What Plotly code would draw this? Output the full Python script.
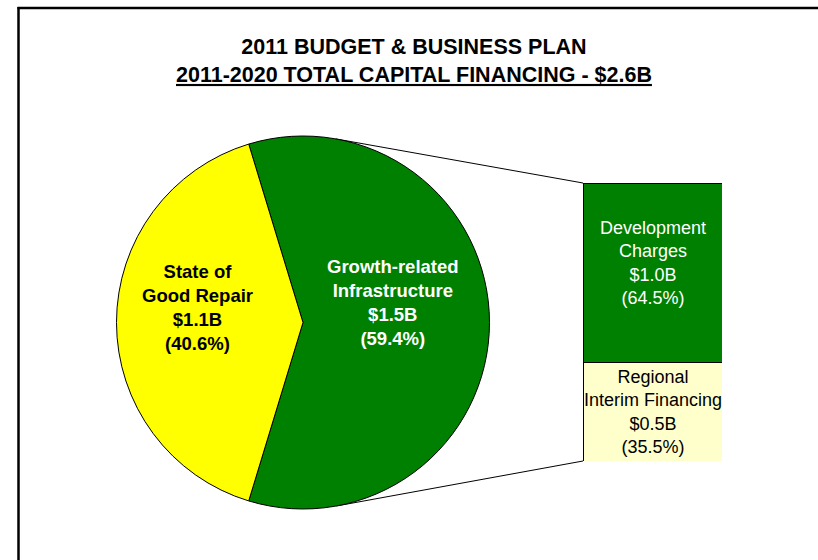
import math
import plotly.graph_objects as go

W, H = 818, 560

# 2011-2020 total capital financing, share of total (%)
pie_labels = ["Growth-related<br>Infrastructure", "State of<br>Good Repair"]
pie_amounts = ["$1.5B", "$1.1B"]
pie_shares = [59.4, 40.6]
pie_colors = ["#008000", "#FFFF00"]
pie_text_colors = ["white", "black"]

# Growth-related infrastructure broken down by funding source (% of that slice)
bar_labels = ["Regional<br>Interim Financing", "Development<br>Charges"]
bar_amounts = ["$0.5B", "$1.0B"]
bar_shares = [35.5, 64.5]
bar_colors = ["#FFFFCC", "#008000"]
bar_text_colors = ["black", "white"]

title_lines = ["2011 BUDGET & BUSINESS PLAN", "2011-2020 TOTAL CAPITAL FINANCING - $2.6B"]

FONT = "Arial, 'Liberation Sans', sans-serif"

# layout geometry in pixels
cx, cy, R = 303.0, 322.5, 186.5          # pie centre / radius
bx0, bx1, by0, by1 = 583.0, 722.0, 183.0, 461.0   # stacked bar box


def px(x):
    return x / W


def py(y):
    return 1 - y / H


fig = go.Figure()

# pie: yellow slice centred on 9 o'clock, drawn clockwise starting with the green slice
rotation = pie_shares[1] / 100 * 180 - 90
fig.add_trace(go.Pie(
    values=pie_shares,
    labels=[l.replace("<br>", " ") for l in pie_labels],
    marker=dict(colors=pie_colors, line=dict(color="black", width=1)),
    sort=False,
    direction="clockwise",
    rotation=rotation,
    textinfo="none",
    hoverinfo="label+percent",
    showlegend=False,
    domain=dict(x=[px(cx - R), px(cx + R)], y=[py(cy + R), py(cy - R)]),
))

# stacked bar for the broken-out slice
base = 0
bar_bases = []
for lab, val, col in zip(bar_labels, bar_shares, bar_colors):
    bar_bases.append(base)
    fig.add_trace(go.Bar(
        x=[0], y=[val], width=1,
        name=lab.replace("<br>", " "),
        marker=dict(color=col, line=dict(color="black", width=1)),
        showlegend=False, hoverinfo="name+y",
    ))
    base += val

fig.update_layout(
    barmode="stack",
    xaxis=dict(domain=[px(bx0), px(bx1)], range=[-0.5, 0.5], visible=False, fixedrange=True),
    yaxis=dict(domain=[py(by1), py(by0)], range=[0, sum(bar_shares)], visible=False, fixedrange=True),
)

annotations = []

# bar labels
bar_label_shift = [0, 10]
for lab, amt, val, b, tc, sh in zip(bar_labels, bar_amounts, bar_shares, bar_bases,
                                   bar_text_colors, bar_label_shift):
    annotations.append(dict(
        x=0, y=b + val / 2, xref="x", yref="y",
        xanchor="center", yanchor="middle",
        text=f"{lab}<br>{amt}<br>({val:.1f}%)",
        showarrow=False, yshift=sh,
        font=dict(family=FONT, size=18, color=tc),
    ))

# pie labels, placed relative to the pie centre in units of the radius
pie_label_offsets = [(0.48, -0.105), (-0.568, -0.078)]
for lab, amt, val, tc, (ox, oy) in zip(pie_labels, pie_amounts, pie_shares,
                                       pie_text_colors, pie_label_offsets):
    annotations.append(dict(
        x=px(cx + ox * R), y=py(cy + oy * R), xref="paper", yref="paper",
        xanchor="center", yanchor="middle",
        text=f"<b>{lab}<br>{amt}<br>({val:.1f}%)</b>",
        showarrow=False,
        font=dict(family=FONT, size=18.5, color=tc),
    ))

# title
annotations.append(dict(
    x=px(414), y=py(61), xref="paper", yref="paper",
    text=f"<b>{title_lines[0]}</b><br><b><u>{title_lines[1]}</u></b>",
    showarrow=False, xanchor="center", yanchor="middle",
    font=dict(family=FONT, size=21.5, color="black"),
))

shapes = []


# connector lines: tangent from each bar corner to the pie
def tangent_point(x, y, upper):
    dx, dy = x - cx, y - cy
    L = math.hypot(dx, dy)
    a = math.atan2(dy, dx)
    d = math.acos(R / L)
    cands = [a + d, a - d]
    pts = [(cx + R * math.cos(t), cy + R * math.sin(t)) for t in cands]
    pts.sort(key=lambda p: p[1])
    return pts[0] if upper else pts[-1]


for (x, y), upper in [((bx0, by0), True), ((bx0, by1), False)]:
    tx, ty = tangent_point(x, y, upper)
    shapes.append(dict(type="line", xref="paper", yref="paper",
                       x0=px(tx), y0=py(ty), x1=px(x), y1=py(y),
                       line=dict(color="black", width=1), layer="below"))

# chart frame (left and top edges)
fx, fy = 18.5, 8
shapes.append(dict(type="line", xref="paper", yref="paper", x0=px(fx), y0=py(fy - 1), x1=px(fx), y1=py(H + 5),
                   line=dict(color="black", width=2.5)))
shapes.append(dict(type="line", xref="paper", yref="paper", x0=px(fx - 1), y0=py(fy), x1=px(W + 5), y1=py(fy),
                   line=dict(color="black", width=2.5)))

fig.update_layout(
    width=W, height=H,
    margin=dict(l=0, r=0, t=0, b=0),
    paper_bgcolor="white", plot_bgcolor="white",
    annotations=annotations,
    shapes=shapes,
    showlegend=False,
)

fig.write_html("out.html", config=dict(displayModeBar=False))
